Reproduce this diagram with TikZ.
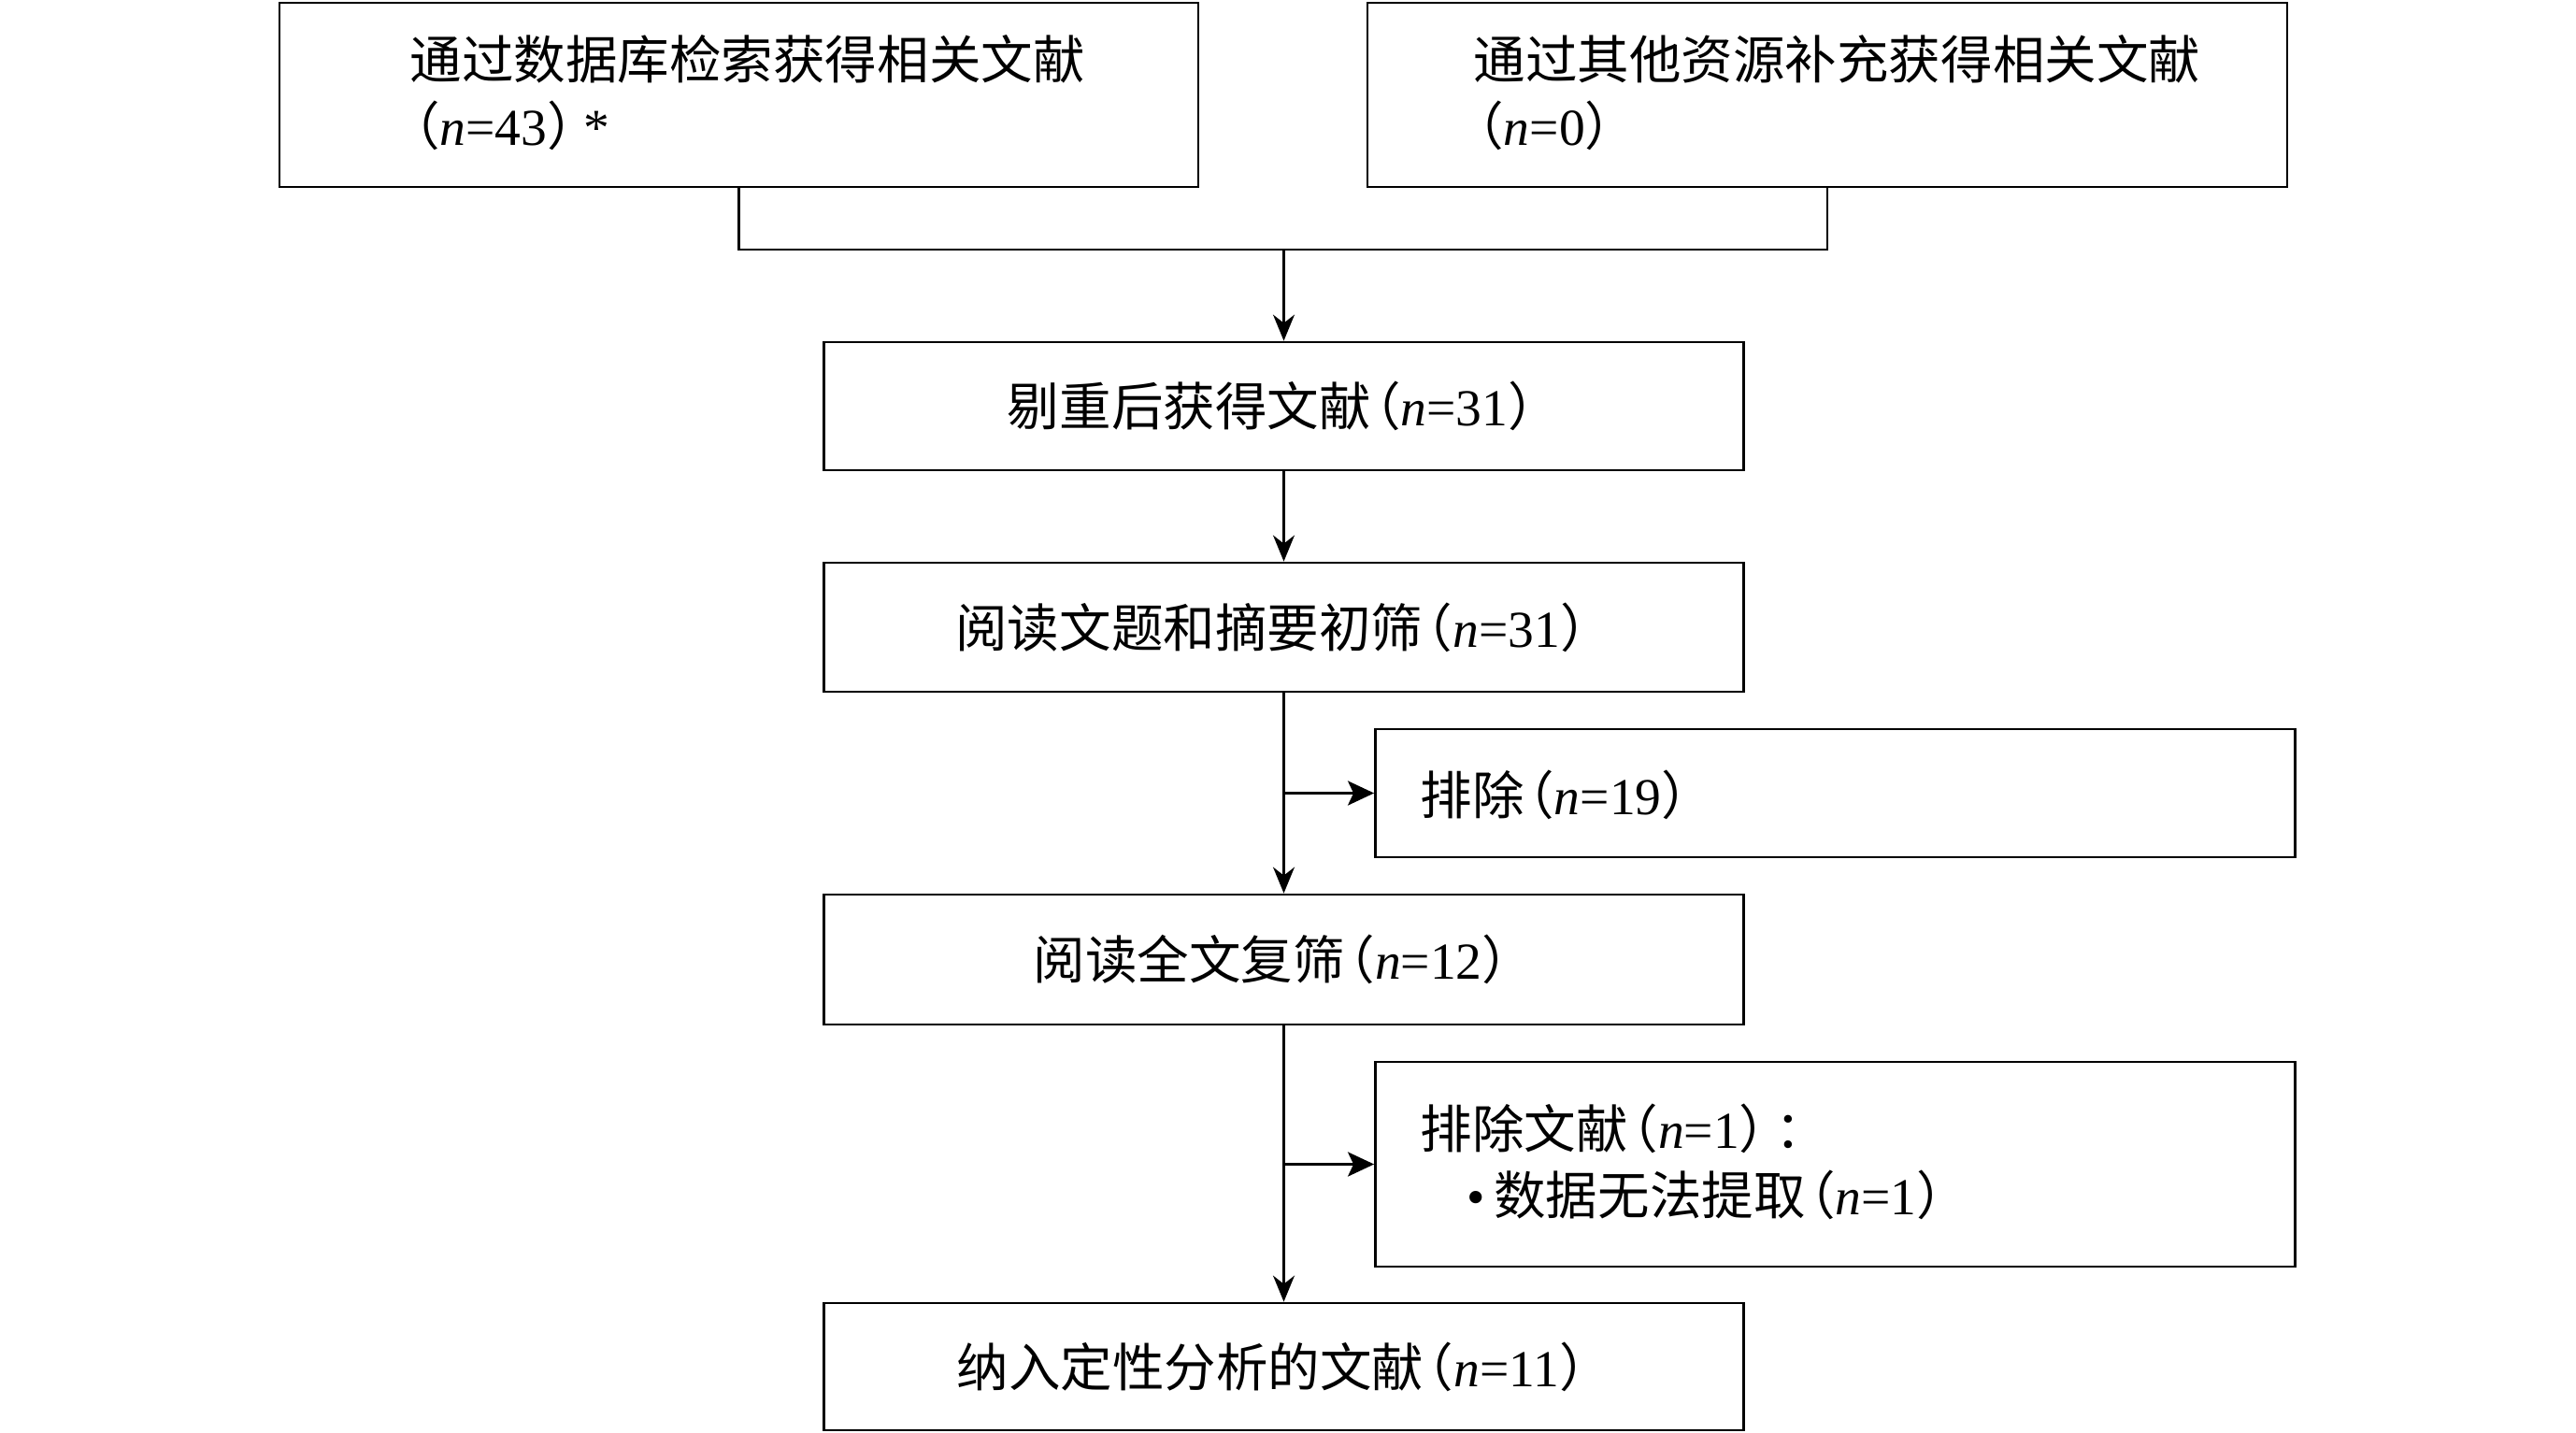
\documentclass[tikz,border=0pt]{standalone}
\usepackage{fontspec}
\setmainfont{Liberation Serif}
\newfontfamily\cjk{Noto Sans CJK SC}
\usetikzlibrary{arrows.meta}
\newcommand\zh[1]{{\cjk #1}}
\newcommand\nn{\textit{n}}
\newcommand\lpar{\kern-0.42em\zh{（}}
\newcommand\rpar{\zh{）}}
\begin{document}
\begin{tikzpicture}[
  font={\fontsize{15.8}{20.2}\selectfont},
  box/.style={draw, line width=0.8pt, inner sep=0pt, minimum width=9.84cm, align=center},
  txt/.style={inner sep=0pt, anchor=west, align=left},
  conn/.style={line width=0.65pt},
  arr/.style={line width=0.65pt, -{Stealth[length=2.8mm,width=2.3mm,inset=0.9mm]}},
  sidearr/.style={line width=0.95pt, -{Stealth[length=2.8mm,width=2.6mm,inset=0.6mm]}}
]
\useasboundingbox (0,0) rectangle (27.56,-15.33);
% top boxes
\node[box, minimum width=9.83cm, minimum height=1.97cm] (b1) at (7.905,-1.015) {};
\node[box, minimum height=1.97cm] (b2) at (19.55,-1.015) {};
\node[txt] (b1t) at (4.38,-0.99) {\zh{通过数据库检索获得相关文献}\\\lpar\nn=43\rpar\kern-0.3em*};
\node[txt] (b2t) at (15.76,-0.99) {\zh{通过其他资源补充获得相关文献}\\\lpar\nn=0\rpar};
% main chain
\node[box, minimum height=1.37cm] (b3) at (13.735,-4.345) {\zh{剔重后获得文献}\lpar\nn=31\rpar};
\node[box, minimum height=1.38cm] (b4) at (13.735,-6.71) {\zh{阅读文题和摘要初筛}\lpar\nn=31\rpar};
\node[box, minimum height=1.39cm] (b5) at (13.735,-10.265) {\zh{阅读全文复筛}\lpar\nn=12\rpar};
\node[box, minimum height=1.36cm] (b6) at (13.735,-14.62) {\zh{纳入定性分析的文献}\lpar\nn=11\rpar};
% exclusion boxes
\node[box, minimum height=1.37cm] (e1) at (19.635,-8.485) {};
\node[txt] (e1t) at (15.19,-8.50) {\zh{排除}\lpar\nn=19\rpar};
\node[box, minimum height=2.19cm] (e2) at (19.635,-12.455) {};
\node[txt] (e2t) at (15.19,-12.43) {\zh{排除文献}\lpar\nn=1\rpar\kern-0.3em\zh{：}\\\hspace*{0.5cm}•\,\zh{数据无法提取}\lpar\nn=1\rpar};
% connectors
\coordinate (m) at (13.735,-2.67);
\draw[conn] (b1.south) |- (m) -| (b2.south);
\draw[arr] (m) -- (b3.north);
\draw[arr] (b3.south) -- (b4.north);
\draw[arr] (b4.south) -- (b5.north);
\draw[sidearr] (b4.south |- e1.west) -- (e1.west);
\draw[arr] (b5.south) -- (b6.north);
\draw[sidearr] (b5.south |- e2.west) -- (e2.west);
\end{tikzpicture}
\end{document}
